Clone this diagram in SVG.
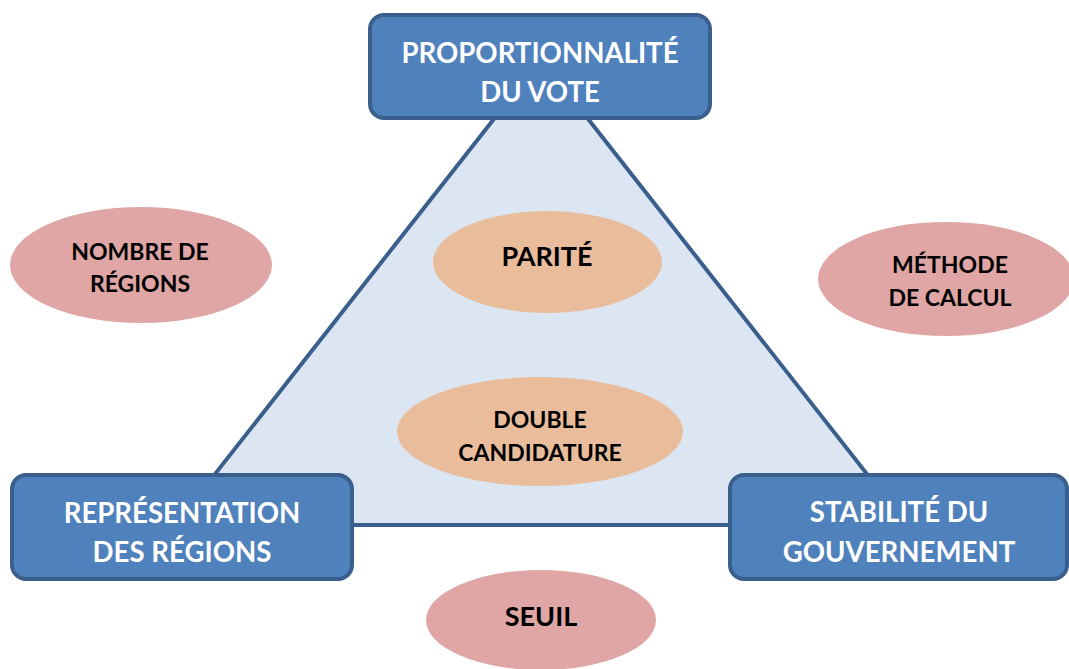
<svg xmlns="http://www.w3.org/2000/svg" width="1069" height="669" viewBox="0 0 1069 669">
<style>
.box{fill:#4F81BD;stroke:#3A5F8D;stroke-width:4}
.pink{fill:#DFA6A5}
.peach{fill:#E9BD9B}
.bt{font-family:Lato,"Open Sans","Liberation Sans",sans-serif;font-weight:bold;fill:#FFFFFF;font-size:27.6px;text-anchor:middle}
.et{font-family:Lato,"Open Sans","Liberation Sans",sans-serif;font-weight:bold;fill:#000000;font-size:23px;text-anchor:middle}
.big{font-size:27px}
</style>
<rect width="1069" height="669" fill="#FFFFFF"/>
<g id="connectors">
<polygon points="541,59 175,525 907,525" fill="#DCE6F2" stroke="#3A5F8D" stroke-width="4" stroke-linejoin="miter"/>
</g>
<g id="node-proportionnalite">
<rect class="box" x="370" y="15" width="340" height="103" rx="14"/>
<text class="bt" x="540" y="63">PROPORTIONNALITÉ</text>
<text class="bt" x="540" y="102">DU VOTE</text>
</g>
<g id="node-representation">
<rect class="box" x="12" y="475" width="340" height="104" rx="14"/>
<text class="bt" x="182" y="523">REPRÉSENTATION</text>
<text class="bt" x="182" y="562">DES RÉGIONS</text>
</g>
<g id="node-stabilite">
<rect class="box" x="730" y="475" width="337" height="104" rx="14"/>
<text class="bt" x="899" y="522">STABILITÉ DU</text>
<text class="bt" x="899" y="562">GOUVERNEMENT</text>
</g>
<g id="node-nombre">
<ellipse class="pink" cx="141" cy="265" rx="131" ry="58"/>
<text class="et" x="140" y="260">NOMBRE DE</text>
<text class="et" x="140" y="292">RÉGIONS</text>
</g>
<g id="node-methode">
<ellipse class="pink" cx="946" cy="279" rx="128" ry="57"/>
<text class="et" x="950" y="273">MÉTHODE</text>
<text class="et" x="950" y="306">DE CALCUL</text>
</g>
<g id="node-parite">
<ellipse class="peach" cx="547.5" cy="262" rx="114.5" ry="51"/>
<text class="et big" x="547" y="266">PARITÉ</text>
</g>
<g id="node-double">
<ellipse class="peach" cx="540" cy="431.5" rx="143" ry="54.5"/>
<text class="et" x="540" y="428">DOUBLE</text>
<text class="et" x="540" y="461">CANDIDATURE</text>
</g>
<g id="node-seuil">
<ellipse class="pink" cx="541" cy="620" rx="115" ry="50"/>
<text class="et big" x="541" y="626">SEUIL</text>
</g>
</svg>
